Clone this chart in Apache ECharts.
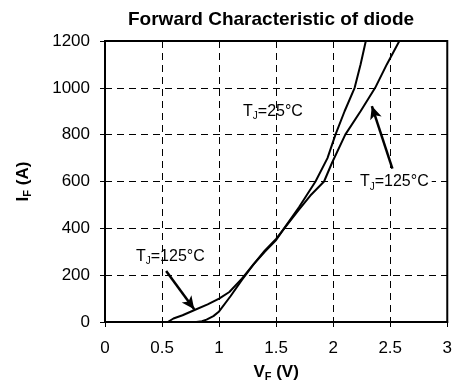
<!DOCTYPE html>
<html>
<head>
<meta charset="utf-8">
<script src="https://cdn.jsdelivr.net/npm/echarts@6/dist/echarts.min.js"></script>
<style>
  html, body { margin: 0; padding: 0; background: #fff; }
  #chart { width: 455px; height: 391px; }
</style>
</head>
<body>
<div id="chart"></div>
<script>
// Tj = 25°C curve
const vf25 = [0.80, 0.85, 0.89, 0.95, 1.0, 1.1, 1.2, 1.3, 1.4, 1.5, 1.57, 1.7, 1.845, 1.95, 2.02, 2.1, 2.188, 2.24, 2.286];
const if25 = [0, 3, 10, 25, 45, 110, 180, 245, 300, 350, 400, 490, 600, 700, 800, 900, 1000, 1100, 1200];

// Tj = 125°C curve
const vf125 = [0.55, 0.6, 0.68, 0.78, 0.9, 1.0, 1.09, 1.2, 1.3, 1.4, 1.5, 1.58, 1.7, 1.8, 1.92, 1.99, 2.106, 2.24, 2.368, 2.47, 2.58];
const if125 = [0, 15, 29, 50, 75, 100, 128, 185, 245, 305, 355, 405, 480, 540, 600, 680, 800, 900, 1000, 1100, 1200];

// annotation arrows [tail, tip] in data units
const arrowRight = [[2.519, 655], [2.339, 922]];
const arrowLeft = [[0.536, 218], [0.782, 54]];

const FONT = 'Liberation Sans';
const black = '#000';

const pairs = (xs, ys) => xs.map((x, i) => [x, ys[i]]);

const rich = {
  a: { fontFamily: FONT, fontSize: 16, color: black, lineHeight: 20 },
  s: { fontFamily: FONT, fontSize: 10, color: black, lineHeight: 20, verticalAlign: 'bottom', padding: [6, 0, 0, 0] },
  b: { fontFamily: FONT, fontSize: 17, fontWeight: 'bold', color: black, lineHeight: 20 },
  bs: { fontFamily: FONT, fontSize: 11, fontWeight: 'bold', color: black, lineHeight: 20, verticalAlign: 'bottom', padding: [6, 0, 0, 0] },
};

const myChart = echarts.init(document.getElementById('chart'));

myChart.setOption({
  animation: false,
  title: {
    text: 'Forward Characteristic of diode',
    left: 123,
    top: 5,
    textStyle: { fontFamily: FONT, fontSize: 19, fontWeight: 'bold', color: black },
  },
  grid: {
    left: 105,
    right: 6,
    top: 41,
    bottom: 69,
    show: true,
    borderColor: black,
    borderWidth: 2,
    backgroundColor: '#fff',
  },
  xAxis: {
    type: 'value',
    min: 0,
    max: 3,
    interval: 0.5,
    name: '{b|V}{bs|F}{b| (V)}',
    nameLocation: 'middle',
    nameGap: 40,
    nameTextStyle: { rich },
    axisLine: { show: true, lineStyle: { color: black, width: 2 } },
    axisTick: { show: true, length: 5, lineStyle: { color: black } },
    axisLabel: { fontFamily: FONT, fontSize: 17, color: black, margin: 18 },
    splitLine: { show: true, lineStyle: { color: black, type: [7, 5], width: 1 } },
  },
  yAxis: {
    type: 'value',
    min: 0,
    max: 1200,
    interval: 200,
    name: '{b|I}{bs|F}{b| (A)}',
    nameLocation: 'middle',
    nameGap: 72,
    nameRotate: 90,
    nameTextStyle: { rich },
    axisLine: { show: true, lineStyle: { color: black, width: 2 } },
    axisTick: { show: true, length: 5, lineStyle: { color: black } },
    axisLabel: { fontFamily: FONT, fontSize: 17, color: black, margin: 15, formatter: (v) => String(v) },
    splitLine: { show: true, lineStyle: { color: black, type: [7, 5], width: 1 } },
  },
  series: [
    {
      name: 'Tj=25°C',
      type: 'line',
      data: pairs(vf25, if25),
      showSymbol: false,
      lineStyle: { color: black, width: 2 },
      markPoint: {
        symbol: 'circle',
        symbolSize: 0,
        label: { show: true, formatter: '{a|T}{s|J}{a|=25°C}', rich, position: 'inside' },
        data: [{ coord: [1.472, 900] }],
      },
    },
    {
      name: 'Tj=125°C',
      type: 'line',
      data: pairs(vf125, if125),
      showSymbol: false,
      lineStyle: { color: black, width: 2 },
      markLine: {
        silent: true,
        symbol: ['none', 'arrow'],
        symbolSize: [9, 13],
        label: { show: false },
        lineStyle: { color: black, width: 2.5, type: 'solid' },
        data: [
          [{ coord: arrowRight[0] }, { coord: arrowRight[1] }],
          [{ coord: arrowLeft[0] }, { coord: arrowLeft[1] }],
        ],
      },
      markPoint: {
        symbol: 'circle',
        symbolSize: 0,
        label: { show: true, formatter: '{a|T}{s|J}{a|=125°C}', rich, position: 'inside' },
        data: [
          { coord: [2.536, 598], label: { backgroundColor: '#fff', padding: [0, 3, 0, 3] } },
          { coord: [0.573, 281] },
        ],
      },
    },
  ],
});
</script>
</body>
</html>
